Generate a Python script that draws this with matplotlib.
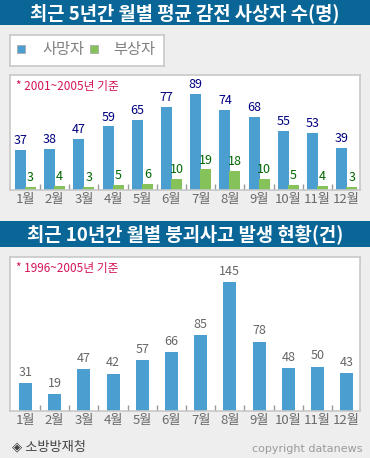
import matplotlib
matplotlib.use("Agg")
from matplotlib import pyplot as plt
from matplotlib.patches import Rectangle
import numpy as np

plt.rcParams['font.family'] = ['Noto Sans CJK KR', 'DejaVu Sans']

W, H = 370, 458

months = ["1월", "2월", "3월", "4월", "5월", "6월", "7월", "8월", "9월", "10월", "11월", "12월"]
deaths = [37, 38, 47, 59, 65, 77, 89, 74, 68, 55, 53, 39]
injured = [3, 4, 3, 5, 6, 10, 19, 18, 10, 5, 4, 3]
collapse = [31, 19, 47, 42, 57, 66, 85, 145, 78, 48, 50, 43]

title1 = "최근 5년간 월별 평균 감전 사상자 수(명)"
title2 = "최근 10년간 월별 붕괴사고 발생 현황(건)"
note1 = "* 2001~2005년 기준"
note2 = "* 1996~2005년 기준"
source = "◈ 소방방재청"
credit = "copyright datanews"

BLUE = "#4a9fd0"
GREEN = "#86c25a"
BAR_BG = "#0a6696"
BORDER = "#c8c8c8"


def px_rect(x0, y0, x1, y1):
    # pixel box (from top-left) -> figure fraction rect
    return [x0 / W, 1 - y1 / H, (x1 - x0) / W, (y1 - y0) / H]


def fx(x):
    return x / W


def fy(y):
    return 1 - y / H


def style_box(ax, xlim, ylim):
    ax.set_xlim(*xlim)
    ax.set_ylim(*ylim)
    ax.set_facecolor("white")
    for s in ax.spines.values():
        s.set_color(BORDER)
        s.set_linewidth(1.2)
    ax.set_yticks([])
    ax.set_xticks(np.arange(len(months)))
    ax.set_xticklabels(months, fontsize=9.5, color="#6a6a6a")
    ax.tick_params(axis="x", length=0, pad=2)
    # small separators on the baseline
    ax.set_xticks(np.arange(len(months) - 1) + 0.5, minor=True)
    ax.tick_params(axis="x", which="minor", length=4, width=1, color="#999999", direction="in")


fig = plt.figure(figsize=(W / 100, H / 100), dpi=100)
fig.patch.set_facecolor("#eeeeee")

# title bars
for y0, y1, t in [(0, 25, title1), (221, 247, title2)]:
    fig.add_artist(Rectangle((0, fy(y1)), 1, (y1 - y0) / H, transform=fig.transFigure,
                             facecolor=BAR_BG, edgecolor="none"))
    fig.text(0.5, fy((y0 + y1) / 2 + 1), t, color="white", fontsize=13.5, fontweight="bold",
             ha="center", va="center")

# legend box
lg = fig.add_axes(px_rect(10, 35, 164, 66))
lg.set_xlim(0, 154)
lg.set_ylim(31, 0)
lg.set_xticks([])
lg.set_yticks([])
for s in lg.spines.values():
    s.set_color(BORDER)
    s.set_linewidth(1.2)
lg.add_patch(Rectangle((7, 10), 8, 8, facecolor=BLUE, edgecolor="#aaaaaa", lw=0.6))
lg.text(32, 14.5, "사망자", fontsize=11, color="#808080", va="center")
lg.add_patch(Rectangle((80, 10), 8, 8, facecolor=GREEN, edgecolor="#aaaaaa", lw=0.6))
lg.text(103, 14.5, "부상자", fontsize=11, color="#808080", va="center")

x = np.arange(len(months))
x_left = -(25.5 - 10) / 29.2
x_right = (360 - 25.5) / 29.2

# chart 1
ax1 = fig.add_axes(px_rect(10, 75, 360, 190))
style_box(ax1, (x_left, x_right), (0, 115 / 1.08))
w1 = 11 / 29.2
b1 = ax1.bar(x - 0.17, deaths, width=w1, color=BLUE, zorder=2)
b2 = ax1.bar(x + 0.17, injured, width=w1, color=GREEN, zorder=2)
ax1.bar_label(b1, padding=2, fontsize=9, color="#000080")
ax1.bar_label(b2, padding=2, fontsize=9, color="#006600")
ax1.text(0.018, 0.9, note1, transform=ax1.transAxes, fontsize=8.5, color="#d4145a", va="center")

# chart 2
ax2 = fig.add_axes(px_rect(10, 257, 360, 411))
style_box(ax2, (x_left, x_right), (0, 154 / 0.89))
b3 = ax2.bar(x, collapse, width=13 / 29.2, color=BLUE, zorder=2)
ax2.bar_label(b3, padding=3, fontsize=9, color="#666666")
ax2.text(0.018, 0.925, note2, transform=ax2.transAxes, fontsize=8.5, color="#d4145a", va="center")

# footer
fig.text(fx(12), fy(447), source, fontsize=9.5, color="#444444", va="center")
fig.text(fx(362), fy(449), credit, fontsize=8, color="#9a9a9a", va="center", ha="right",
         family="DejaVu Sans")

fig.savefig("out.png", dpi=100, facecolor=fig.get_facecolor())
